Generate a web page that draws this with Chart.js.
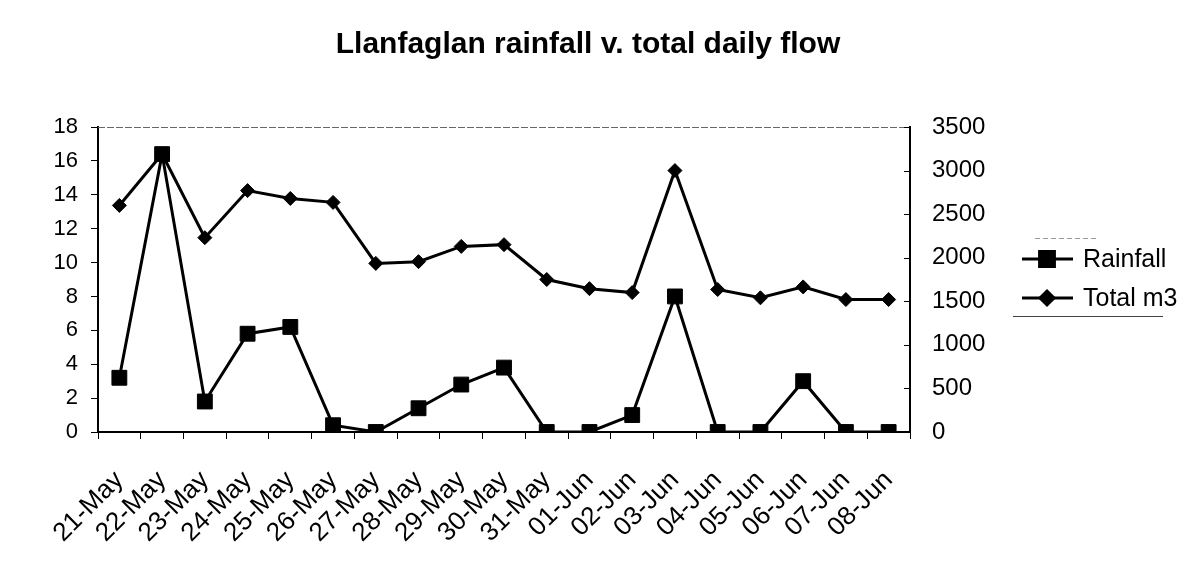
<!DOCTYPE html>
<html>
<head>
<meta charset="utf-8">
<title>Llanfaglan rainfall v. total daily flow</title>
<script src="https://cdn.jsdelivr.net/npm/chart.js@4.4.1/dist/chart.umd.min.js"></script>
<style>
  html, body { margin: 0; padding: 0; background: #fff; }
  #wrap { width: 1202px; height: 562px; }
</style>
</head>
<body>
<div id="wrap"><canvas id="flowChart" width="1202" height="562"></canvas></div>
<script>
// days along the x axis
const DAYS = ['21-May', '22-May', '23-May', '24-May', '25-May', '26-May', '27-May', '28-May', '29-May', '30-May',
              '31-May', '01-Jun', '02-Jun', '03-Jun', '04-Jun', '05-Jun', '06-Jun', '07-Jun', '08-Jun'];

// rainfall (mm), left axis
const RAINFALL = [3.2, 16.4, 1.8, 5.8, 6.2, 0.4, 0, 1.4, 2.8, 3.8, 0, 0, 1.0, 8.0, 0, 0, 3.0, 0, 0];

// total daily flow (m3), right axis
const TOTAL_M3 = [2600, 3190, 2230, 2770, 2680, 2635, 1935, 1955, 2130, 2150, 1750, 1645, 1600, 3000, 1635, 1540, 1665, 1520, 1520];

const LEFT_MAX = 18, LEFT_STEP = 2;
const RIGHT_MAX = 3500, RIGHT_STEP = 500;

const FONT = "'Liberation Sans', Arial, sans-serif";

// faint top edge of the plot box + inward tick marks on the right axis
const plotFrame = {
  id: 'plotFrame',
  afterDraw(chart) {
    const { ctx, chartArea: a } = chart;
    const y1 = chart.scales.y1;
    ctx.save();
    ctx.strokeStyle = '#666';
    ctx.lineWidth = 1;
    ctx.setLineDash([7, 2]);
    ctx.beginPath();
    ctx.moveTo(a.left, a.top + 0.5);
    ctx.lineTo(a.right, a.top + 0.5);
    ctx.stroke();
    ctx.setLineDash([]);
    ctx.strokeStyle = '#000';
    ctx.beginPath();
    y1.ticks.forEach(t => {
      const py = Math.round(y1.getPixelForValue(t.value)) + 0.5;
      ctx.moveTo(a.right - 6, py);
      ctx.lineTo(a.right, py);
    });
    ctx.stroke();
    ctx.restore();
  }
};

// Excel-style legend: line with marker through it, right of the right axis
const sideLegend = {
  id: 'sideLegend',
  afterDraw(chart) {
    const { ctx } = chart;
    const x0 = chart.scales.y1.left + 103;
    const rowY = [259, 298];
    ctx.save();
    // box edges (only top and bottom survive in the scan)
    ctx.strokeStyle = '#999';
    ctx.lineWidth = 1;
    ctx.setLineDash([5, 3]);
    ctx.beginPath();
    ctx.moveTo(x0 + 22, 238.5); ctx.lineTo(x0 + 85, 238.5);
    ctx.stroke();
    ctx.setLineDash([]);
    ctx.strokeStyle = '#444';
    ctx.beginPath();
    ctx.moveTo(x0, 316.5); ctx.lineTo(x0 + 150, 316.5);
    ctx.stroke();

    chart.data.datasets.forEach((ds, i) => {
      const y = rowY[i];
      ctx.strokeStyle = ds.borderColor;
      ctx.lineWidth = ds.borderWidth;
      ctx.beginPath();
      ctx.moveTo(x0 + 9, y); ctx.lineTo(x0 + 60, y);
      ctx.stroke();
      Chart.helpers.drawPoint(ctx, {
        pointStyle: ds.pointStyle, radius: ds.pointRadius, borderWidth: 1
      }, x0 + 34, y);
      ctx.fillStyle = '#000';
      ctx.fill();
      ctx.font = '25px ' + FONT;
      ctx.textBaseline = 'middle';
      ctx.fillText(ds.label, x0 + 70, y + 1);
    });
    ctx.restore();
  }
};

document.addEventListener('DOMContentLoaded', () => {
  const canvas = document.getElementById('flowChart');

  new Chart(canvas, {
    type: 'line',
    data: {
      labels: DAYS,
      datasets: [
        { label: 'Rainfall', data: RAINFALL, yAxisID: 'y', borderColor: '#000', backgroundColor: '#000',
          borderWidth: 3, pointStyle: 'rect', pointRadius: 10.5, pointBorderWidth: 1, tension: 0 },
        { label: 'Total m3', data: TOTAL_M3, yAxisID: 'y1', borderColor: '#000', backgroundColor: '#000',
          borderWidth: 3, pointStyle: 'rectRot', pointRadius: 7, pointBorderWidth: 1, tension: 0 }
      ]
    },
    options: {
      responsive: false,
      animation: false,
      devicePixelRatio: 1,
      layout: { padding: { left: 0, right: 26, top: 0, bottom: 0 } },
      plugins: {
        legend: { display: false },
        tooltip: { enabled: false },
        title: {
          display: true,
          text: 'Llanfaglan rainfall v. total daily flow',
          color: '#000',
          font: { family: FONT, size: 30, weight: 'bold' },
          padding: { top: 27, bottom: 64 }
        }
      },
      scales: {
        x: {
          offset: true,
          grid: { offset: true, drawOnChartArea: false, drawTicks: true, tickLength: 7, color: '#000', lineWidth: 1 },
          border: { color: '#000', width: 2 },
          ticks: { color: '#000', font: { family: FONT, size: 26 }, maxRotation: 45, minRotation: 45, padding: 26, autoSkip: false },
          afterFit(s) { s.height = 130; }
        },
        y: {
          position: 'left',
          min: 0, max: LEFT_MAX,
          grid: { drawOnChartArea: false, drawTicks: true, tickLength: 7, color: '#000' },
          border: { color: '#000', width: 2 },
          ticks: { stepSize: LEFT_STEP, color: '#000', font: { family: FONT, size: 22 }, padding: 13 },
          afterFit(s) { s.width = 98; }
        },
        y1: {
          position: 'right',
          min: 0, max: RIGHT_MAX,
          grid: { drawOnChartArea: false, drawTicks: false },
          border: { color: '#000', width: 2 },
          ticks: {
            stepSize: RIGHT_STEP, color: '#000', font: { family: FONT, size: 24 }, padding: 22,
            callback: v => String(v)
          },
          afterFit(s) { s.width = 266; }
        }
      }
    },
    plugins: [plotFrame, sideLegend]
  });
});
</script>
</body>
</html>
